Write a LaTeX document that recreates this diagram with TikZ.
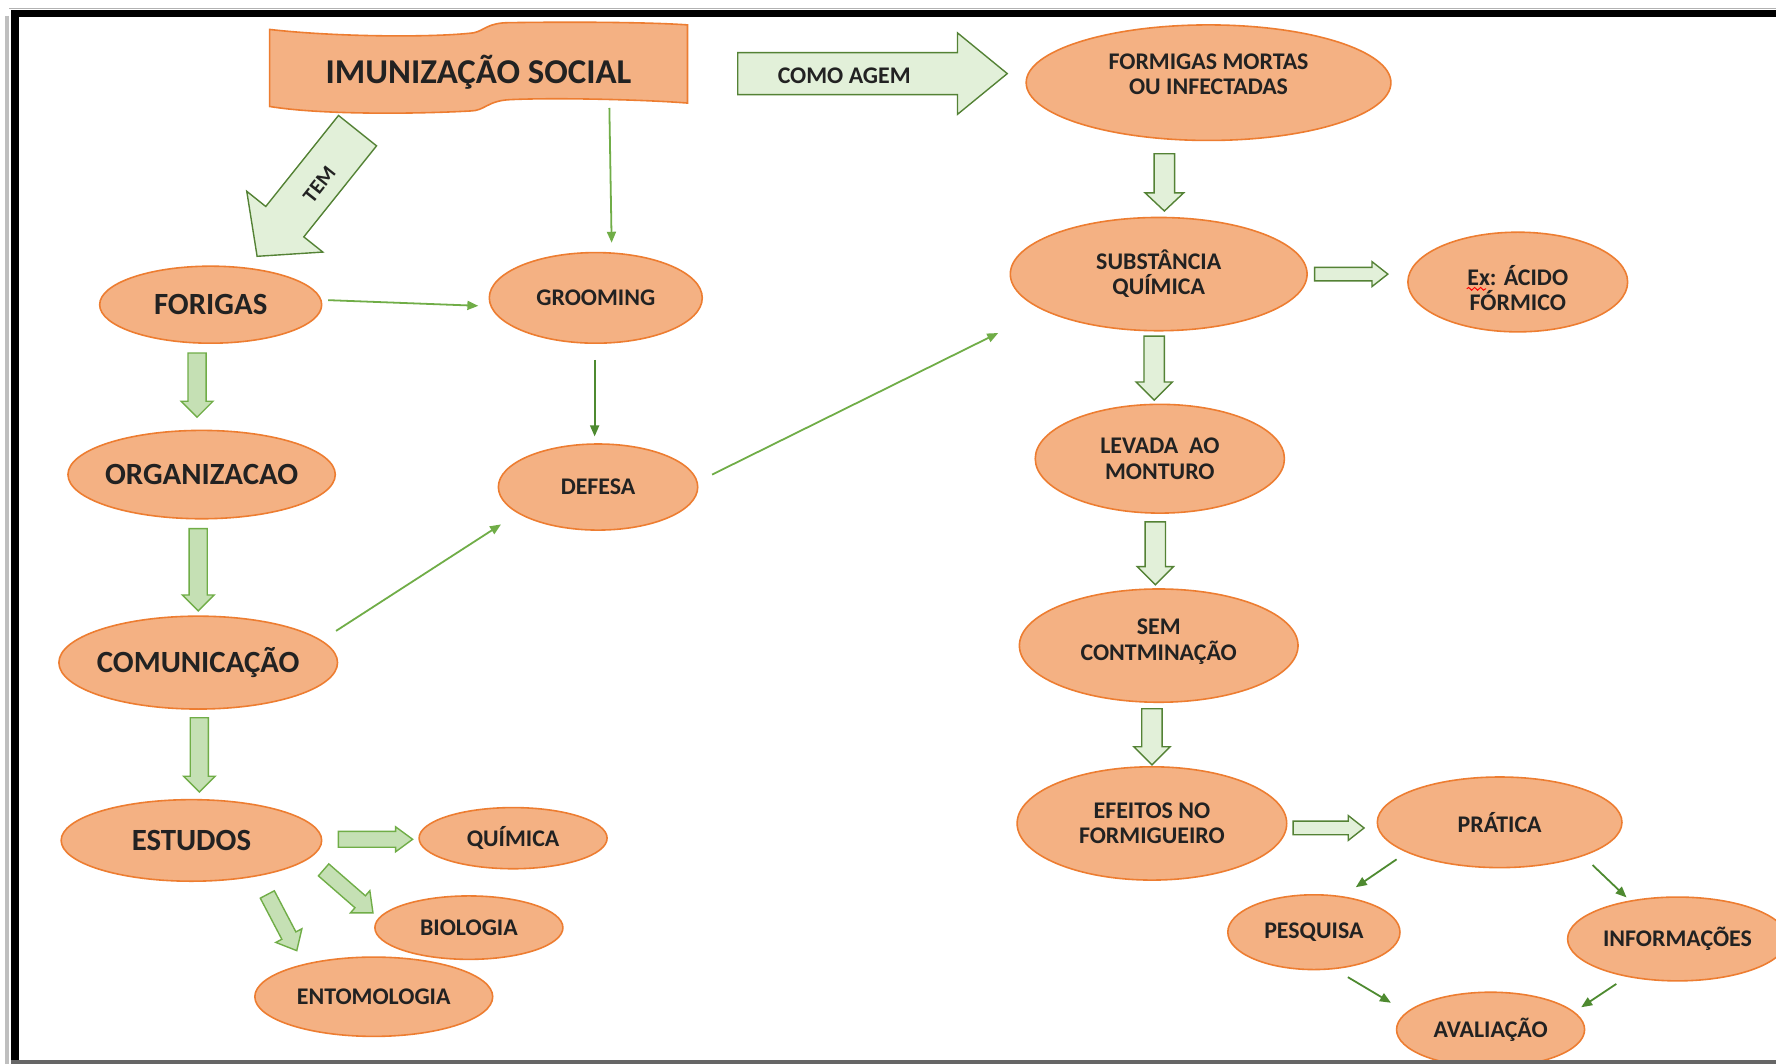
\documentclass[tikz,border=0pt]{standalone}
\usepackage{fontspec}
\setmainfont{Carlito}
\usetikzlibrary{shapes.geometric,arrows.meta,calc,decorations.pathmorphing}
\definecolor{eorange}{HTML}{ED7D31}
\definecolor{forange}{HTML}{F4B183}
\definecolor{gfillA}{HTML}{C5E0B4}
\definecolor{gfillB}{HTML}{E2F0D9}
\definecolor{gdrawA}{HTML}{70AD47}
\definecolor{gdrawB}{HTML}{548235}
\definecolor{tline}{HTML}{70AD47}
\definecolor{tlineB}{HTML}{4E8A30}
\definecolor{txt}{HTML}{222222}
\tikzset{
  el/.style 2 args={ellipse, draw=eorange, fill=forange, line width=0.8pt,
    minimum width=#1*0.02cm, minimum height=#2*0.02cm, inner sep=-30pt,
    text=txt, align=center},
  big/.style={font=\fontsize{15.5}{18}\selectfont\bfseries},
  sm/.style={font=\fontsize{12}{12.6}\selectfont\bfseries},
  tx/.style={text=txt, align=center, inner sep=0pt},
  tarrow/.style={draw=tline, line width=0.9pt, -{Triangle[length=5.5pt,width=4.5pt]}},
  tarrowB/.style={draw=tlineB, line width=0.9pt, -{Triangle[length=5.5pt,width=4.5pt]}},
  fat/.style n args={3}{to path={let \p1=(\tikztostart), \p2=(\tikztotarget),
      \n1={atan2(\y2-\y1,\x2-\x1)}, \n2={veclen(\x2-\x1,\y2-\y1)-#3*0.569pt},
      \n3={#1*0.569pt}, \n4={#2*0.569pt} in
      ($(\p1)+(\n1+90:\n3)$) -- ($(\p1)+(\n1:\n2)+(\n1+90:\n3)$)
      -- ($(\p1)+(\n1:\n2)+(\n1+90:\n4)$) -- (\p2)
      -- ($(\p1)+(\n1:\n2)+(\n1-90:\n4)$) -- ($(\p1)+(\n1:\n2)+(\n1-90:\n3)$)
      -- ($(\p1)+(\n1-90:\n3)$) -- cycle}},
  fatA/.style={fill=gfillA, draw=gdrawA, line width=0.7pt, line join=miter},
  fatB/.style={fill=gfillB, draw=gdrawB, line width=0.7pt, line join=miter},
}
\begin{document}
\begin{tikzpicture}[x=0.02cm,y=-0.02cm]
\useasboundingbox (0,0) rectangle (1568,939);
\clip (0,0) rectangle (1568,939);
\fill[white] (0,0) rectangle (1568,939);

% banner
\draw[draw=eorange, fill=forange, line width=0.8pt]
  (238,26) .. controls (300,33) and (385,33) .. (418,29)
  .. controls (428,27) and (430,20) .. (450,20)
  .. controls (520,19) and (580,20) .. (607,22) -- (607,91)
  .. controls (570,88) and (490,86) .. (450,88)
  .. controls (430,89) and (428,98) .. (415,98)
  .. controls (360,101) and (280,101) .. (238,94) -- cycle;
\node[font=\fontsize{17.5}{20}\selectfont\bfseries, text=txt, minimum width=369*0.02cm, minimum height=72*0.02cm, inner sep=0pt] (banner) at (422.5,64) {IMUNIZAÇÃO SOCIAL};

% left nodes
\node[el={196}{68}, big] (forigas) at (186,269) {FORIGAS};
\node[el={236}{78}, big] (organiz) at (178,419) {ORGANIZACAO};
\node[el={246}{82}, big] (comunic) at (175,585) {COMUNICAÇÃO};
\node[el={230}{72}, big] (estudos) at (169,742) {ESTUDOS};
\node[el={166}{54}, sm] (quimica) at (453,740) {QUÍMICA};
\node[el={166}{56}, sm] (biologia) at (414,819) {BIOLOGIA};
\node[el={210}{70}, sm] (entomologia) at (330,880) {ENTOMOLOGIA};
\node[el={188}{80}, sm] (grooming) at (526,263) {GROOMING};
\node[el={176}{76}, sm] (defesa) at (528,430) {DEFESA};

% right nodes
\node[el={322}{102}] (formigas) at (1067,73) {};
\node[tx, sm] (formigastxt) at ($(formigas)+(0,-7.5)$) {FORMIGAS MORTAS\\OU INFECTADAS};
\node[el={262}{100}, sm] (substancia) at (1023,242) {SUBSTÂNCIA\\QUÍMICA};
\node[el={194}{88}] (exacido) at (1340,249) {};
\node[tx, sm] (exacidotxt) at ($(exacido)+(0,5)$) {Ex: ÁCIDO\\FÓRMICO};
\node[el={220}{96}, sm] (levada) at (1024,405) {LEVADA \ AO\\MONTURO};
\node[el={246}{100}] (semcont) at (1023,570) {};
\node[tx, sm] (semconttxt) at ($(semcont)+(0,-3.5)$) {SEM\\CONTMINAÇÃO};
\node[el={238}{100}, sm] (efeitos) at (1017,727) {EFEITOS NO\\FORMIGUEIRO};
\node[el={216}{80}, sm] (pratica) at (1324,726) {PRÁTICA};
\node[el={152}{66}, sm] (pesquisa) at (1160,823) {PESQUISA};
\node[el={194}{74}, sm] (informacoes) at (1481,829) {INFORMAÇÕES};
\node[el={166}{66}, sm] (avaliacao) at (1316,909) {AVALIAÇÃO};

\draw[red, line width=0.5pt, decorate, decoration={snake, amplitude=0.7pt, segment length=3pt}]
  ($(exacido)+(-45,6)$) -- ($(exacido)+(-28,6)$);

% big arrows with labels
\draw[fatB] ($(banner.east)+(44,1)$) to[fat={18.5}{36}{44}] ($(formigas.west)+(-16,-8)$);
\node[sm, text=txt] (comoagem) at ($(banner.east)+(138,3)$) {COMO AGEM};
\draw[fatB] ($(banner.south west)+(78,15)$) to[fat={21.5}{43}{39}] ($(forigas.north)+(41,-8)$);
\node[font=\fontsize{10.5}{12}\selectfont\bfseries, text=txt, rotate=51.5] (tem) at (282,163) {TEM};

% left column fat arrows
\draw[fatA] ($(forigas.south)+(-12,8)$) to[fat={8}{14}{14}] ($(organiz.north)+(-4,-11)$);
\draw[fatA] ($(organiz.south)+(-3,8)$) to[fat={8}{14}{14}] ($(comunic.north)+(0,-4)$);
\draw[fatA] ($(comunic.south)+(1,7)$) to[fat={8}{14}{14}] ($(estudos.north)+(7,-6)$);
\draw[fatA] ($(estudos.east)+(14,-1)$) to[fat={7}{11}{15}] ($(quimica.west)+(-5,1)$);
\draw[fatA] ($(estudos.east)+(1,26)$) to[fat={7}{13}{15}] ($(biologia.west)+(-1,-13)$);
\draw[fatA] ($(estudos.south)+(67,11)$) to[fat={7}{13}{15}] ($(entomologia.north)+(-68,-5)$);

% right column fat arrows
\draw[fatB] ($(formigas.south)+(-39,11)$) to[fat={9}{17}{16}] ($(substancia.north)+(5,-5)$);
\draw[fatB] ($(substancia.east)+(6,0)$) to[fat={6}{11}{14}] ($(exacido.west)+(-17,-7)$);
\draw[fatB] ($(substancia.south)+(-4,4)$) to[fat={9}{16}{16}] ($(levada.north)+(-5,-3)$);
\draw[fatB] ($(levada.south)+(-4,7)$) to[fat={9}{16}{16}] ($(semcont.north)+(-3,-3)$);
\draw[fatB] ($(semcont.south)+(-6,5)$) to[fat={9}{16}{16}] ($(efeitos.north)+(0,-1)$);
\draw[fatB] ($(efeitos.east)+(5,4)$) to[fat={6}{11}{14}] ($(pratica.west)+(-11,5)$);

% thin arrows
\draw[tarrow] ($(banner.south)+(115.5,-5)$) -- ($(grooming.north)+(14,-8)$);
\draw[tarrow] ($(forigas.east)+(5,-4)$) -- ($(grooming.west)+(-9,7)$);
\draw[tarrowB] ($(grooming.south)+(-1,14)$) -- ($(defesa.north)+(-3,-6)$);
\draw[tarrow] ($(comunic.east)+(-2,-28)$) -- ($(defesa.west)+(3,33)$);
\draw[tarrow] ($(defesa.east)+(12,-11)$) -- ($(substancia.west)+(-10,52)$);
\draw[tarrowB] ($(pratica.south)+(-91,-8)$) -- ($(pesquisa.north)+(37,-6)$);
\draw[tarrowB] ($(pratica.south)+(82,-3)$) -- ($(informacoes.north)+(-45,1)$);
\draw[tarrowB] ($(pesquisa.south)+(30,6)$) -- ($(avaliacao.north)+(-88,10)$);
\draw[tarrowB] ($(informacoes.south)+(-54,2)$) -- ($(avaliacao.north)+(80,14)$);

% frame
\draw[black!25, line width=4*0.02cm] (6,14) -- (6,939);
\draw[black!30, line width=1.5*0.02cm] (8,7.5) -- (1568,7.5);
\draw[black, line width=6.5*0.02cm] (10,12) -- (1568,12);
\draw[black, line width=7*0.02cm] (13.5,9) -- (13.5,939);
\draw[black!60, line width=3*0.02cm] (10,937.5) -- (1568,937.5);
\end{tikzpicture}
\end{document}
